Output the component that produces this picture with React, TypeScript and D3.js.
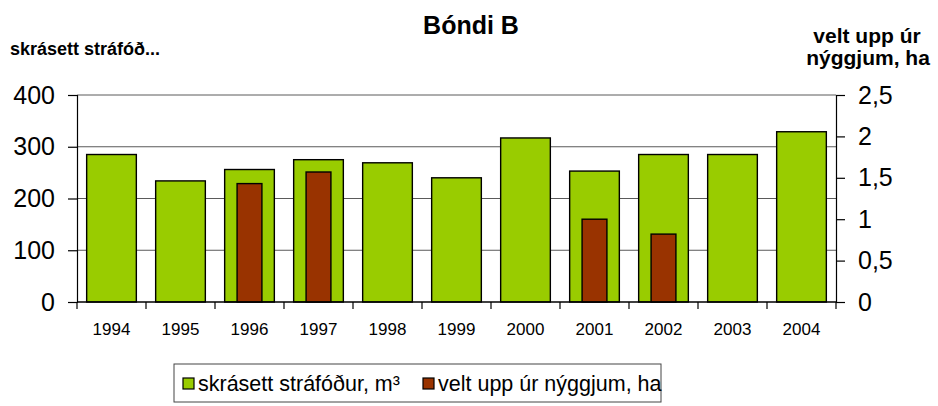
import React, { useEffect, useRef } from 'react';
import * as d3 from 'd3';

const years = ['1994', '1995', '1996', '1997', '1998', '1999', '2000', '2001', '2002', '2003', '2004'];
const fodur = [285, 234, 256, 275, 269, 240, 317, 253, 285, 285, 329];
const velt = [null, null, 1.43, 1.57, null, null, null, 1.0, 0.82, null, null];
const leftTicks = [0, 100, 200, 300, 400];
const rightTicks = [0, 0.5, 1, 1.5, 2, 2.5];

const W = 938;
const H = 406;
const font = 'Arial, "Liberation Sans", sans-serif';

const draw = (node: SVGSVGElement) => {
    const svg = d3.select(node);
    svg.selectAll('*').remove();

    const margin = { top: 95, right: 102, bottom: 104, left: 77 };
    const x0 = margin.left, x1 = W - margin.right;
    const y0 = H - margin.bottom, y1 = margin.top;

    const x = d3.scaleBand().domain(years).range([x0, x1]).paddingInner(0.28).paddingOuter(0.14);
    const yL = d3.scaleLinear().domain([0, 400]).range([y0, y1]);
    const yR = d3.scaleLinear().domain([0, 2.5]).range([y0, y1]);

    // gridlines
    svg.append('g')
        .selectAll('line')
        .data(leftTicks.filter(d => d > 0))
        .enter()
        .append('line')
        .attr('x1', x0).attr('x2', x1)
        .attr('y1', d => yL(d)).attr('y2', d => yL(d))
        .attr('stroke', '#5a5a5a')
        .attr('stroke-width', 1);

    // green bars
    svg.append('g')
        .selectAll('rect')
        .data(fodur)
        .enter()
        .append('rect')
        .attr('x', (d, i) => x(years[i])!)
        .attr('y', d => yL(d))
        .attr('width', x.bandwidth())
        .attr('height', d => y0 - yL(d))
        .attr('fill', '#99cc00')
        .attr('stroke', '#000')
        .attr('stroke-width', 1.4);

    // red bars
    const bw = x.bandwidth() * 0.5;
    svg.append('g')
        .selectAll('rect')
        .data(velt.map((v, i) => ({ v, year: years[i] })).filter(d => d.v != null))
        .enter()
        .append('rect')
        .attr('x', d => x(d.year)! + (x.bandwidth() - bw) / 2)
        .attr('y', d => yR(d.v as number))
        .attr('width', bw)
        .attr('height', d => y0 - yR(d.v as number))
        .attr('fill', '#993300')
        .attr('stroke', '#000')
        .attr('stroke-width', 1.4);

    // axes
    const leftAxis = d3.axisLeft(yL).tickValues(leftTicks).tickSize(9).tickPadding(13).tickFormat(d3.format('d'));
    const gl = svg.append('g').attr('transform', `translate(${x0},0)`).call(leftAxis);
    const rightAxis = d3.axisRight(yR).tickValues(rightTicks).tickSize(9).tickPadding(13)
        .tickFormat(d => String(d).replace('.', ','));
    const gr = svg.append('g').attr('transform', `translate(${x1},0)`).call(rightAxis);
    [gl, gr].forEach(g => {
        g.select('.domain').attr('stroke', '#000').attr('stroke-width', 1.2);
        g.selectAll('.tick line').attr('stroke', '#000').attr('stroke-width', 1.2);
        g.selectAll('.tick text')
            .attr('font-family', font)
            .attr('font-size', 25)
            .attr('fill', '#000');
    });

    // x axis
    const step = x.step();
    svg.append('line')
        .attr('x1', x0).attr('x2', x1).attr('y1', y0).attr('y2', y0)
        .attr('stroke', '#000').attr('stroke-width', 1.3);
    svg.append('g')
        .selectAll('line')
        .data(d3.range(years.length + 1))
        .enter()
        .append('line')
        .attr('x1', i => x0 + i * step).attr('x2', i => x0 + i * step)
        .attr('y1', y0).attr('y2', y0 + 7)
        .attr('stroke', '#000').attr('stroke-width', 1.2);
    svg.append('g')
        .selectAll('text')
        .data(years)
        .enter()
        .append('text')
        .text(d => d)
        .attr('x', d => x(d)! + x.bandwidth() / 2)
        .attr('y', 335)
        .attr('text-anchor', 'middle')
        .attr('font-family', font)
        .attr('font-size', 17)
        .attr('fill', '#000');

    // titles
    svg.append('text')
        .text('Bóndi B')
        .attr('x', 471).attr('y', 34)
        .attr('text-anchor', 'middle')
        .attr('font-family', font).attr('font-weight', 'bold').attr('font-size', 25);
    svg.append('text')
        .text('skrásett stráfóð...')
        .attr('x', 10).attr('y', 55)
        .attr('font-family', font).attr('font-weight', 'bold').attr('font-size', 18);
    const rt = svg.append('text')
        .attr('text-anchor', 'middle')
        .attr('font-family', font).attr('font-weight', 'bold').attr('font-size', 21);
    rt.append('tspan').text('velt upp úr').attr('x', 867).attr('y', 43);
    rt.append('tspan').text('nýggjum, ha').attr('x', 868).attr('y', 65);

    // legend
    const lg = svg.append('g');
    lg.append('rect')
        .attr('x', 174).attr('y', 364).attr('width', 487).attr('height', 38)
        .attr('fill', '#fff').attr('stroke', '#444').attr('stroke-width', 1);
    const items = [
        { label: 'skrásett stráfóður, m³', color: '#99cc00', x: 183 },
        { label: 'velt upp úr nýggjum, ha', color: '#993300', x: 423 },
    ];
    items.forEach(it => {
        lg.append('rect')
            .attr('x', it.x).attr('y', 378).attr('width', 11).attr('height', 11)
            .attr('fill', it.color).attr('stroke', '#000').attr('stroke-width', 1.2);
        lg.append('text')
            .text(it.label)
            .attr('x', it.x + 15).attr('y', 391)
            .attr('font-family', font).attr('font-size', 21.5).attr('fill', '#000');
    });
};

export default function App() {
    const ref = useRef<SVGSVGElement>(null);
    useEffect(() => {
        if (ref.current) draw(ref.current);
    }, []);
    return (
        <div style={{ position: 'absolute', left: 0, top: 0, background: '#fff' }}>
            <svg ref={ref} width={W} height={H} style={{ display: 'block' }} />
        </div>
    );
}
